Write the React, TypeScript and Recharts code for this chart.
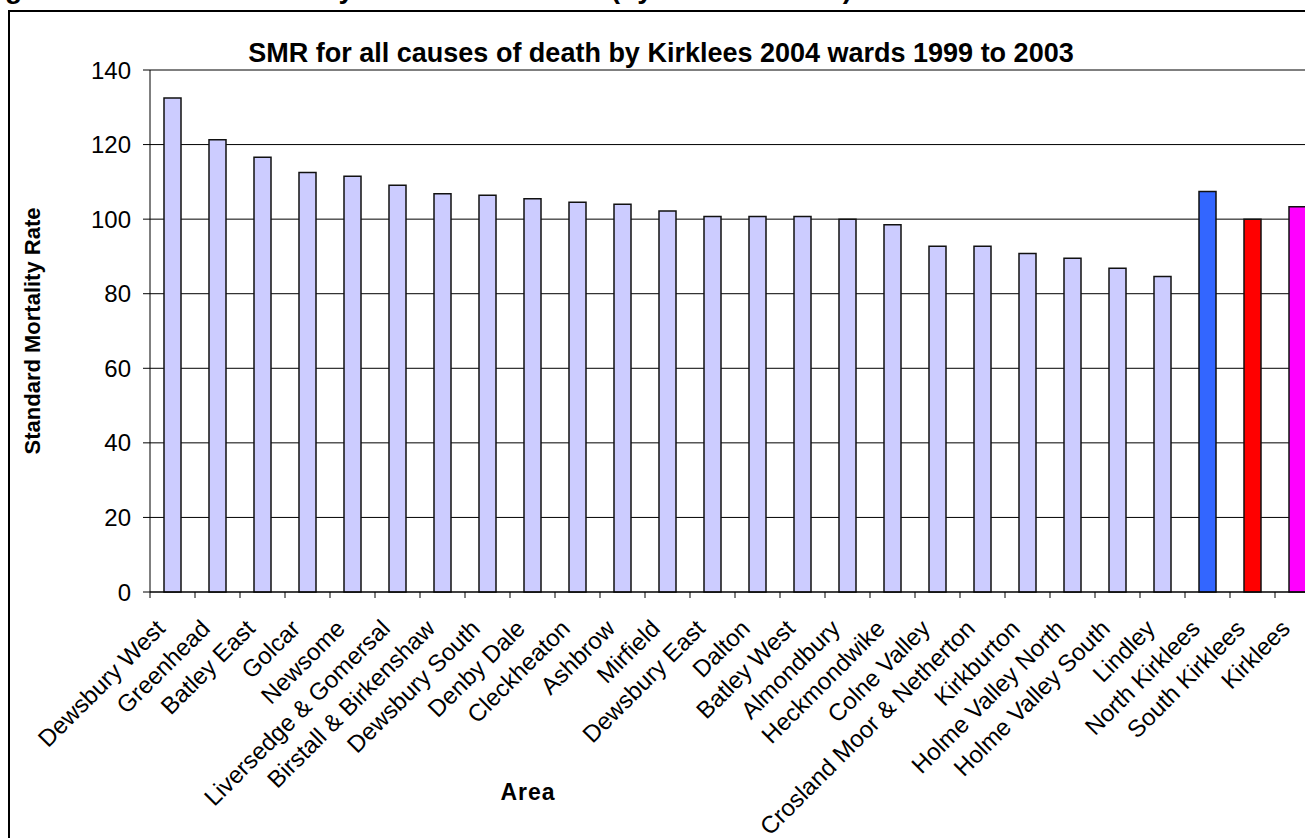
import React from "react";
import { BarChart, Bar, XAxis, YAxis, CartesianGrid, Cell } from "recharts";

// Kirklees 2004 wards, ordered by SMR, followed by the district totals
const areas = [
  "Dewsbury West",
  "Greenhead",
  "Batley East",
  "Golcar",
  "Newsome",
  "Liversedge & Gomersal",
  "Birstall & Birkenshaw",
  "Dewsbury South",
  "Denby Dale",
  "Cleckheaton",
  "Ashbrow",
  "Mirfield",
  "Dewsbury East",
  "Dalton",
  "Batley West",
  "Almondbury",
  "Heckmondwike",
  "Colne Valley",
  "Crosland Moor & Netherton",
  "Kirkburton",
  "Holme Valley North",
  "Holme Valley South",
  "Lindley",
  "North Kirklees",
  "South Kirklees",
  "Kirklees",
];

// Standardised mortality, all causes, 1999 to 2003
const smrValues = [
  132.5, 121.3, 116.6, 112.5, 111.5, 109.1, 106.8, 106.4, 105.5, 104.5, 104.0,
  102.2, 100.7, 100.7, 100.7, 100.0, 98.5, 92.7, 92.7, 90.8, 89.5, 86.8, 84.6,
  107.4, 100.0, 103.3,
];

const wardColor = "#CCCCFF";
const barColors = [
  ...areas.slice(0, 23).map(() => wardColor),
  "#3366FF",
  "#FF0000",
  "#FF00FF",
];

const yTicks = [0, 20, 40, 60, 80, 100, 120, 140];

const data = areas.map((area, i) => ({ area, smr: smrValues[i] }));

const FONT = "'Liberation Sans', Arial, sans-serif";
const TICK_FONT_SIZE = 24;

// Rotated category label plus an Excel-style tick mark on the category boundary
const AreaTick = (props: any) => {
  const { x, y, payload } = props;
  const half = payload && typeof payload.offset === "number" ? payload.offset : 0;
  const bx = x - half;
  const lx = x - 18;
  const ly = y + 26;
  return (
    <g>
      <line x1={bx} y1={y} x2={bx} y2={y + 6} stroke="#000" strokeWidth={1} />
      <text
        x={lx}
        y={ly}
        dy="0.71em"
        textAnchor="end"
        transform={`rotate(-45 ${lx} ${ly})`}
        fontSize={TICK_FONT_SIZE}
        fontFamily={FONT}
        fill="#000"
      >
        {payload.value}
      </text>
    </g>
  );
};

export default function App() {
  return (
    <div
      style={{
        position: "absolute",
        left: 0,
        top: 0,
        width: 1305,
        height: 838,
        overflow: "hidden",
        background: "#fff",
        fontFamily: FONT,
      }}
    >
      {/* chart frame */}
      <div
        style={{
          position: "absolute",
          left: 8,
          top: 10,
          width: 1400,
          height: 900,
          border: "2px solid #000",
          boxSizing: "border-box",
        }}
      />
      <div style={{ position: "absolute", left: 0, top: 0 }}>
        <BarChart
          width={1340}
          height={838}
          data={data}
          margin={{ top: 70, right: 20, left: 0, bottom: 46 }}
          barSize={17}
        >
          <CartesianGrid horizontal vertical={false} stroke="#000" strokeWidth={1} />
          <XAxis
            dataKey="area"
            interval={0}
            tickLine={false}
            tickSize={0}
            tickMargin={0}
            height={200}
            axisLine={{ stroke: "#000", strokeWidth: 1 }}
            tick={<AreaTick />}
          />
          <YAxis
            width={150}
            domain={[0, 140]}
            ticks={yTicks}
            interval={0}
            tickSize={7}
            tickMargin={12}
            axisLine={{ stroke: "#000", strokeWidth: 1 }}
            tickLine={{ stroke: "#000", strokeWidth: 1 }}
            tick={{ fill: "#000", fontSize: TICK_FONT_SIZE, fontFamily: FONT }}
          />
          <Bar dataKey="smr" stroke="#111" strokeWidth={1.5} isAnimationActive={false}>
            {data.map((d, i) => (
              <Cell key={d.area} fill={barColors[i]} />
            ))}
          </Bar>
        </BarChart>
      </div>
      <svg
        width={1305}
        height={838}
        style={{ position: "absolute", left: 0, top: 0, pointerEvents: "none" }}
      >
        <text x={-20} y={-2} fontSize={28} fontWeight="bold" fontFamily={FONT} fill="#000">
          Figure 3: All cause mortality rates 1999 to 2003 (by Kirklees ward)
        </text>
        <text
          x={661}
          y={62}
          textAnchor="middle"
          fontSize={27}
          fontWeight="bold"
          fontFamily={FONT}
          fill="#000"
        >
          SMR for all causes of death by Kirklees 2004 wards 1999 to 2003
        </text>
        <text
          x={40}
          y={331}
          textAnchor="middle"
          transform="rotate(-90 40 331)"
          fontSize={22}
          fontWeight="bold"
          fontFamily={FONT}
          fill="#000"
        >
          Standard Mortality Rate
        </text>
        <text
          x={528}
          y={800}
          textAnchor="middle"
          fontSize={23}
          fontWeight="bold"
          fontFamily={FONT}
          fill="#000"
          letterSpacing={1}
        >
          Area
        </text>
      </svg>
    </div>
  );
}
